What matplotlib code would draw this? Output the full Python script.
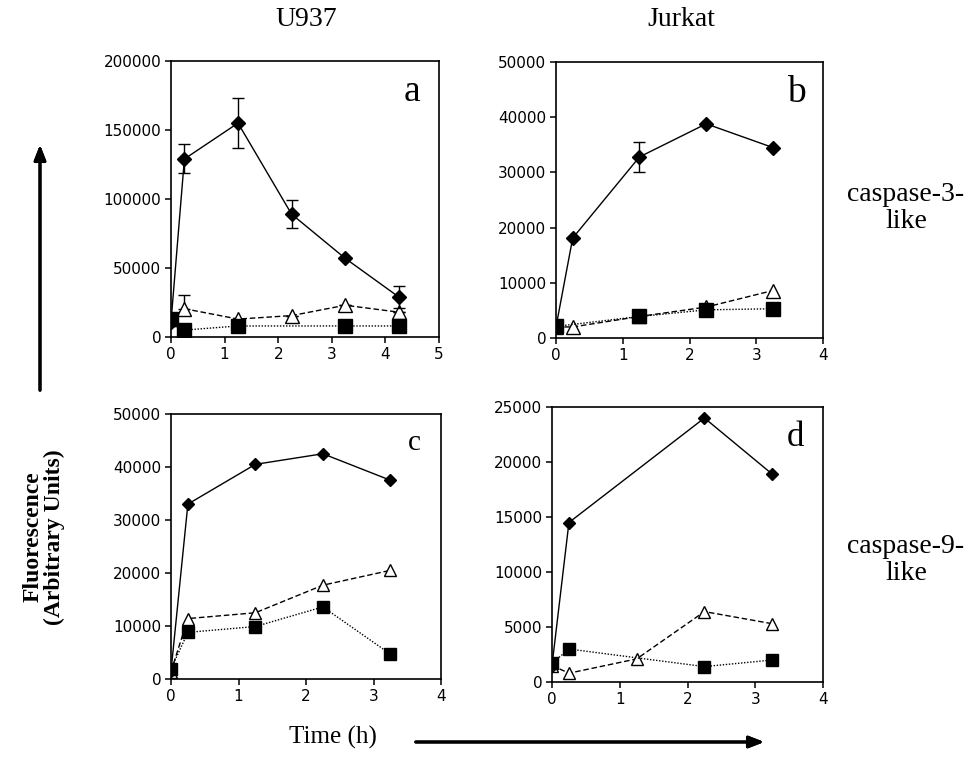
"""Caspase-3-like and caspase-9-like activity over time, U937 vs Jurkat."""

import matplotlib
matplotlib.use("Agg")
import matplotlib.pyplot as plt

W, H = 969, 759

# panel a: U937, caspase-3-like
a_dia_t = [0, 0.25, 1.25, 2.25, 3.25, 4.25]
a_dia_y = [11000, 129000, 155000, 89000, 57000, 29000]
a_dia_err = [0, 10500, 18000, 10000, 0, 8000]
a_tri_t = [0, 0.25, 1.25, 2.25, 3.25, 4.25]
a_tri_y = [13000, 20500, 13000, 15500, 23000, 18000]
a_tri_err = [0, 10000, 0, 0, 0, 0]
a_sq_t = [0, 0.25, 1.25, 3.25, 4.25]
a_sq_y = [13000, 5000, 8000, 8000, 8000]

# panel b: Jurkat, caspase-3-like
b_dia_t = [0, 0.25, 1.25, 2.25, 3.25]
b_dia_y = [2000, 18100, 32800, 38800, 34500]
b_dia_err = [0, 0, 2700, 0, 0]
b_tri_t = [0, 0.25, 1.25, 2.25, 3.25]
b_tri_y = [2000, 2000, 3900, 5600, 8600]
b_sq_t = [0, 1.25, 2.25, 3.25]
b_sq_y = [2100, 3900, 5100, 5300]

# panel c: U937, caspase-9-like
c_dia_t = [0, 0.25, 1.25, 2.25, 3.25]
c_dia_y = [1500, 33000, 40500, 42500, 37500]
c_tri_t = [0, 0.25, 1.25, 2.25, 3.25]
c_tri_y = [1400, 11400, 12500, 17700, 20500]
c_sq_t = [0, 0.25, 1.25, 2.25, 3.25]
c_sq_y = [1900, 8800, 9900, 13600, 4700]

# panel d: Jurkat, caspase-9-like
d_dia_t = [0, 0.25, 2.25, 3.25]
d_dia_y = [1500, 14500, 24000, 18900]
d_tri_t = [0, 0.25, 1.25, 2.25, 3.25]
d_tri_y = [1500, 800, 2100, 6400, 5300]
d_sq_t = [0, 0.25, 2.25, 3.25]
d_sq_y = [1700, 3000, 1400, 2000]

SERIF = ["Liberation Serif", "DejaVu Serif"]

panels = [
    # box is (left, right, top, bottom) in pixels
    dict(letter="a", box=(171, 439, 61, 337), xmax=5, ymax=200000, ystep=50000, lsize=27, ms=1.0,
         dia=(a_dia_t, a_dia_y, a_dia_err), tri=(a_tri_t, a_tri_y, a_tri_err), sq=(a_sq_t, a_sq_y)),
    dict(letter="b", box=(556, 823, 62, 338), xmax=4, ymax=50000, ystep=10000, lsize=27, ms=1.0,
         dia=(b_dia_t, b_dia_y, b_dia_err), tri=(b_tri_t, b_tri_y, None), sq=(b_sq_t, b_sq_y)),
    dict(letter="c", box=(171, 441, 414, 679), xmax=4, ymax=50000, ystep=10000, lsize=21, ms=0.85,
         dia=(c_dia_t, c_dia_y, None), tri=(c_tri_t, c_tri_y, None), sq=(c_sq_t, c_sq_y)),
    dict(letter="d", box=(552, 823, 407, 682), xmax=4, ymax=25000, ystep=5000, lsize=25, ms=0.85,
         dia=(d_dia_t, d_dia_y, None), tri=(d_tri_t, d_tri_y, None), sq=(d_sq_t, d_sq_y)),
]

fig = plt.figure(figsize=(W / 100, H / 100), dpi=100)

for p in panels:
    l, r, t, b = p["box"]
    ax = fig.add_axes([l / W, 1 - b / H, (r - l) / W, (b - t) / H])
    s = p["ms"]

    x, y, e = p["dia"]
    ax.errorbar(x, y, yerr=e, color="black", lw=1.0, marker="D", ms=7 * s,
                capsize=4, elinewidth=1.0, capthick=1.0, zorder=4)
    x, y, e = p["tri"]
    ax.errorbar(x, y, yerr=None if e is None else [[0] * len(e), e], color="black", lw=1.0,
                ls=(0, (4, 2)), marker="^", ms=10 * s, mfc="white", mec="black", mew=1.0,
                capsize=4, elinewidth=1.0, capthick=1.0, zorder=3)
    x, y = p["sq"]
    ax.plot(x, y, color="black", lw=1.0, ls=(0, (1, 1.2)), marker="s", ms=9.5 * s, zorder=3.5)

    ax.set_xlim(0, p["xmax"])
    ax.set_ylim(0, p["ymax"])
    ax.set_xticks(range(0, p["xmax"] + 1))
    ax.set_yticks(range(0, p["ymax"] + 1, p["ystep"]))
    ax.tick_params(direction="out", length=4, width=1.1, labelsize=11, pad=3)
    for sp in ax.spines.values():
        sp.set_linewidth(1.2)
    ax.text(0.9, 0.89, p["letter"], transform=ax.transAxes, ha="center", va="center",
            fontsize=p["lsize"], family=SERIF)

# column and row labels
fig.text(306 / W, 1 - 19 / H, "U937", ha="center", va="center", fontsize=20, family=SERIF)
fig.text(681 / W, 1 - 19 / H, "Jurkat", ha="center", va="center", fontsize=20, family=SERIF)
fig.text(906 / W, 1 - 208 / H, "caspase-3-\nlike", ha="center", va="center", fontsize=20,
         family=SERIF, linespacing=1.1, multialignment="center")
fig.text(906 / W, 1 - 560 / H, "caspase-9-\nlike", ha="center", va="center", fontsize=20,
         family=SERIF, linespacing=1.1, multialignment="center")

# axis captions with arrows
fig.text(44 / W, 1 - 537 / H, "Fluorescence\n(Arbitrary Units)", rotation=90, ha="center",
         va="center", fontsize=17, fontweight="bold", family=SERIF, linespacing=1.05)
fig.text(333 / W, 1 - 737 / H, "Time (h)", ha="center", va="center", fontsize=18, family=SERIF)

arrow = dict(arrowstyle="-|>,head_length=0.9,head_width=0.35", color="black", lw=2.2)
fig.add_artist(plt.annotate("", xy=(40 / W, 1 - 142 / H), xytext=(40 / W, 1 - 393 / H),
                            xycoords="figure fraction", arrowprops=arrow))
fig.add_artist(plt.annotate("", xy=(767 / W, 1 - 742 / H), xytext=(413 / W, 1 - 742 / H),
                            xycoords="figure fraction", arrowprops=arrow))

fig.savefig("out.png", dpi=100)
